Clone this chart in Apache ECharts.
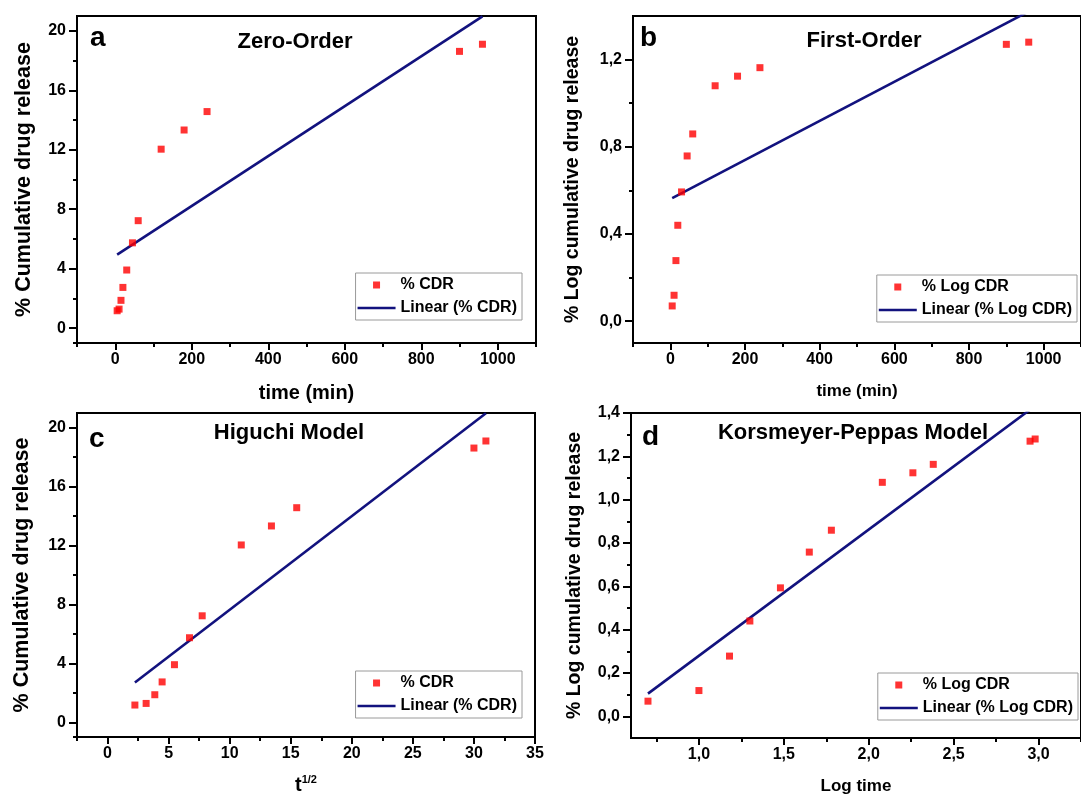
<!DOCTYPE html>
<html>
<head>
<meta charset="utf-8">
<script src="https://cdn.jsdelivr.net/npm/echarts@6/dist/echarts.min.js"></script>
<style>
html,body{margin:0;padding:0;background:#fff;}
#chart{width:1081px;height:796px;}
</style>
</head>
<body>
<div id="chart"></div>
<script>
// ---------- data ----------
const timeMin  = [5, 10, 15, 20, 30, 45, 60, 120, 180, 240, 900, 960];
const sqrtTime = [2.24, 3.16, 3.87, 4.47, 5.48, 6.71, 7.75, 10.95, 13.42, 15.49, 30.0, 30.98];
const logTime  = [0.70, 1.00, 1.18, 1.30, 1.48, 1.65, 1.78, 2.08, 2.26, 2.38, 2.95, 2.98];
const cdr      = [1.17, 1.28, 1.87, 2.74, 3.91, 5.74, 7.23, 12.04, 13.33, 14.57, 18.62, 19.10];
const logCdr   = [0.070, 0.119, 0.278, 0.440, 0.593, 0.758, 0.859, 1.080, 1.124, 1.163, 1.270, 1.280];

// fitted lines (end points)
const fitZeroX = [5, 960],   fitZeroY = [4.94, 20.97];
const fitFirstX = [5, 960],  fitFirstY = [0.565, 1.421];
const fitHigX = [2.24, 30.98], fitHigY = [2.70, 20.98];
const fitKPX = [0.70, 2.98], fitKPY = [0.105, 1.433];

// tick labels
const ticksTime = [0, 200, 400, 600, 800, 1000];
const minorTime = [-100, 100, 300, 500, 700, 900, 1100];
const ticksCdr = [0, 4, 8, 12, 16, 20];
const minorCdr = [-1, 2, 6, 10, 14, 18];
const ticksLogCdr = [0, 0.4, 0.8, 1.2];
const minorLogCdr = [0.2, 0.6, 1.0];
const ticksSqrt = [0, 5, 10, 15, 20, 25, 30, 35];
const minorSqrt = [-2.5, 2.5, 7.5, 12.5, 17.5, 22.5, 27.5, 32.5];
const ticksLogTime = [1.0, 1.5, 2.0, 2.5, 3.0];
const minorLogTime = [0.75, 1.25, 1.75, 2.25, 2.75, 3.25];
const ticksLogCdrD = [0, 0.2, 0.4, 0.6, 0.8, 1.0, 1.2, 1.4];
const minorLogCdrD = [0.1, 0.3, 0.5, 0.7, 0.9, 1.1, 1.3];

const FONT = "'Liberation Sans', Arial, sans-serif";
const RED = '#ff0000';
const NAVY = '#12127e';

const zip = (xs, ys) => xs.map((x, i) => [x, ys[i]]);
const comma = d => v => v.toFixed(d).replace('.', ',');
const plain = v => String(v);

const grids = [
  {left: 77, top: 16, width: 459, height: 327},
  {left: 633, top: 16, width: 456, height: 327},
  {left: 77, top: 413, width: 458, height: 327},
  {left: 631, top: 413, width: 460, height: 327}
].map(g => Object.assign(g, {show: true, borderColor: '#000', borderWidth: 2, backgroundColor: 'transparent', containLabel: false}));

const xAxes = [], yAxes = [];
function addAxes(list, gi, dim, cfg) {
  const main = {
    type: 'value', gridIndex: gi, min: cfg.min, max: cfg.max,
    position: dim === 'x' ? 'bottom' : 'left',
    axisLine: {show: true, onZero: false, lineStyle: {color: '#000', width: 2}},
    axisTick: {show: true, customValues: cfg.major, length: dim === 'x' ? 7 : 8, lineStyle: {color: '#000', width: 2}},
    axisLabel: {show: true, customValues: cfg.major, formatter: cfg.fmt || plain, color: '#000', fontSize: 16, fontWeight: 'bold', fontFamily: FONT, margin: dim === 'x' ? 9 : 11},
    splitLine: {show: false},
    name: cfg.name, nameLocation: 'middle', nameGap: cfg.gap,
    nameTextStyle: Object.assign({color: '#000', fontWeight: 'bold', fontFamily: FONT, fontSize: cfg.nameSize}, cfg.nameExtra || {})
  };
  const minor = {
    type: 'value', gridIndex: gi, min: cfg.min, max: cfg.max,
    position: dim === 'x' ? 'bottom' : 'left',
    axisLine: {show: false, onZero: false},
    axisTick: {show: true, customValues: cfg.minor, length: 4, lineStyle: {color: '#000', width: 2}},
    axisLabel: {show: false},
    splitLine: {show: false}
  };
  list.push(main, minor);
  return list.length - 2;
}

// panel a
const xa = addAxes(xAxes, 0, 'x', {min: -100, max: 1100, major: ticksTime, minor: minorTime, name: 'time (min)', gap: 40, nameSize: 20});
const ya = addAxes(yAxes, 0, 'y', {min: -1, max: 21, major: ticksCdr, minor: minorCdr, name: '% Cumulative drug release', gap: 42, nameSize: 21.5});
// panel b
const xb = addAxes(xAxes, 1, 'x', {min: -100, max: 1100, major: ticksTime, minor: minorTime, name: 'time (min)', gap: 40, nameSize: 17});
const yb = addAxes(yAxes, 1, 'y', {min: -0.1, max: 1.4, major: ticksLogCdr, minor: minorLogCdr, fmt: comma(1), name: '% Log cumulative drug release', gap: 50, nameSize: 19.5});
// panel c
const xc = addAxes(xAxes, 2, 'x', {min: -2.5, max: 35, major: ticksSqrt, minor: minorSqrt, name: '{t|t}{s|1/2}', gap: 37, nameSize: 20,
  nameExtra: {rich: {t: {fontSize: 20, fontWeight: 'bold', fontFamily: FONT, color: '#000', lineHeight: 22}, s: {fontSize: 11, fontWeight: 'bold', fontFamily: FONT, color: '#000', verticalAlign: 'top', lineHeight: 22}}}});
const yc = addAxes(yAxes, 2, 'y', {min: -1, max: 21, major: ticksCdr, minor: minorCdr, name: '% Cumulative drug release', gap: 44, nameSize: 21.5});
// panel d
const xd = addAxes(xAxes, 3, 'x', {min: 0.6, max: 3.25, major: ticksLogTime, minor: minorLogTime, fmt: comma(1), name: 'Log time', gap: 40, nameSize: 17});
const yd = addAxes(yAxes, 3, 'y', {min: -0.1, max: 1.4, major: ticksLogCdrD, minor: minorLogCdrD, fmt: comma(1), name: '% Log cumulative drug release', gap: 46, nameSize: 19.5});

function scatter(name, xi, yi, data) {
  return {type: 'scatter', name, xAxisIndex: xi, yAxisIndex: yi, data, symbol: 'rect', symbolSize: 7,
    itemStyle: {color: RED}, z: 3, silent: true};
}
function fit(name, xi, yi, data) {
  return {type: 'line', name, xAxisIndex: xi, yAxisIndex: yi, data, symbol: 'none', showSymbol: false, clip: true,
    lineStyle: {color: NAVY, width: 2.6}, itemStyle: {color: NAVY}, z: 2, silent: true};
}

const series = [
  scatter('% CDR', xa, ya, zip(timeMin, cdr)),
  fit('Linear (% CDR)', xa, ya, zip(fitZeroX, fitZeroY)),
  scatter('% Log CDR', xb, yb, zip(timeMin, logCdr)),
  fit('Linear (% Log CDR)', xb, yb, zip(fitFirstX, fitFirstY)),
  scatter('% CDR', xc, yc, zip(sqrtTime, cdr)),
  fit('Linear (% CDR)', xc, yc, zip(fitHigX, fitHigY)),
  scatter('% Log CDR', xd, yd, zip(logTime, logCdr)),
  fit('Linear (% Log CDR)', xd, yd, zip(fitKPX, fitKPY))
];

const SQUARE = 'path://M0,0M14,14M3.5,3.5h7v7h-7z';
const BAR = 'path://M0,0M38,14M0,5.7h38v2.6h-38z';
function legend(names, pos) {
  return Object.assign({
    orient: 'vertical', align: 'left', selectedMode: false,
    data: [{name: names[0], icon: SQUARE}, {name: names[1], icon: BAR, itemStyle: {color: NAVY}}],
    itemWidth: 38, itemHeight: 14, itemGap: 7, symbolKeepAspect: true,
    padding: [4, 5, 4, 2], borderColor: '#9a9a9a', borderWidth: 1, backgroundColor: '#fff',
    textStyle: {color: '#000', fontSize: 16, fontWeight: 'bold', fontFamily: FONT}
  }, pos);
}

const legends = [
  legend(['% CDR', 'Linear (% CDR)'], {right: 559, top: 273}),
  legend(['% Log CDR', 'Linear (% Log CDR)'], {right: 4, top: 275}),
  legend(['% CDR', 'Linear (% CDR)'], {right: 559, top: 671}),
  legend(['% Log CDR', 'Linear (% Log CDR)'], {right: 3, top: 673})
];

function label(text, x, y, size, align) {
  return {type: 'text', x, y, z: 10, silent: true,
    style: {text, fill: '#000', font: 'bold ' + size + 'px ' + FONT, align: align, verticalAlign: 'middle'}};
}
const graphic = [
  label('a', 90, 38, 28, 'left'),
  label('Zero-Order', 295, 42, 22, 'center'),
  label('b', 640, 38, 28, 'left'),
  label('First-Order', 864, 41, 22, 'center'),
  label('c', 89, 439, 28, 'left'),
  label('Higuchi Model', 289, 433, 22, 'center'),
  label('d', 642, 437, 28, 'left'),
  label('Korsmeyer-Peppas Model', 853, 433, 22, 'center')
];

const chart = echarts.init(document.getElementById('chart'), null, {renderer: 'canvas'});
chart.setOption({
  animation: false,
  backgroundColor: '#fff',
  textStyle: {fontFamily: FONT},
  grid: grids,
  xAxis: xAxes,
  yAxis: yAxes,
  legend: legends,
  series,
  graphic
});
</script>
</body>
</html>
